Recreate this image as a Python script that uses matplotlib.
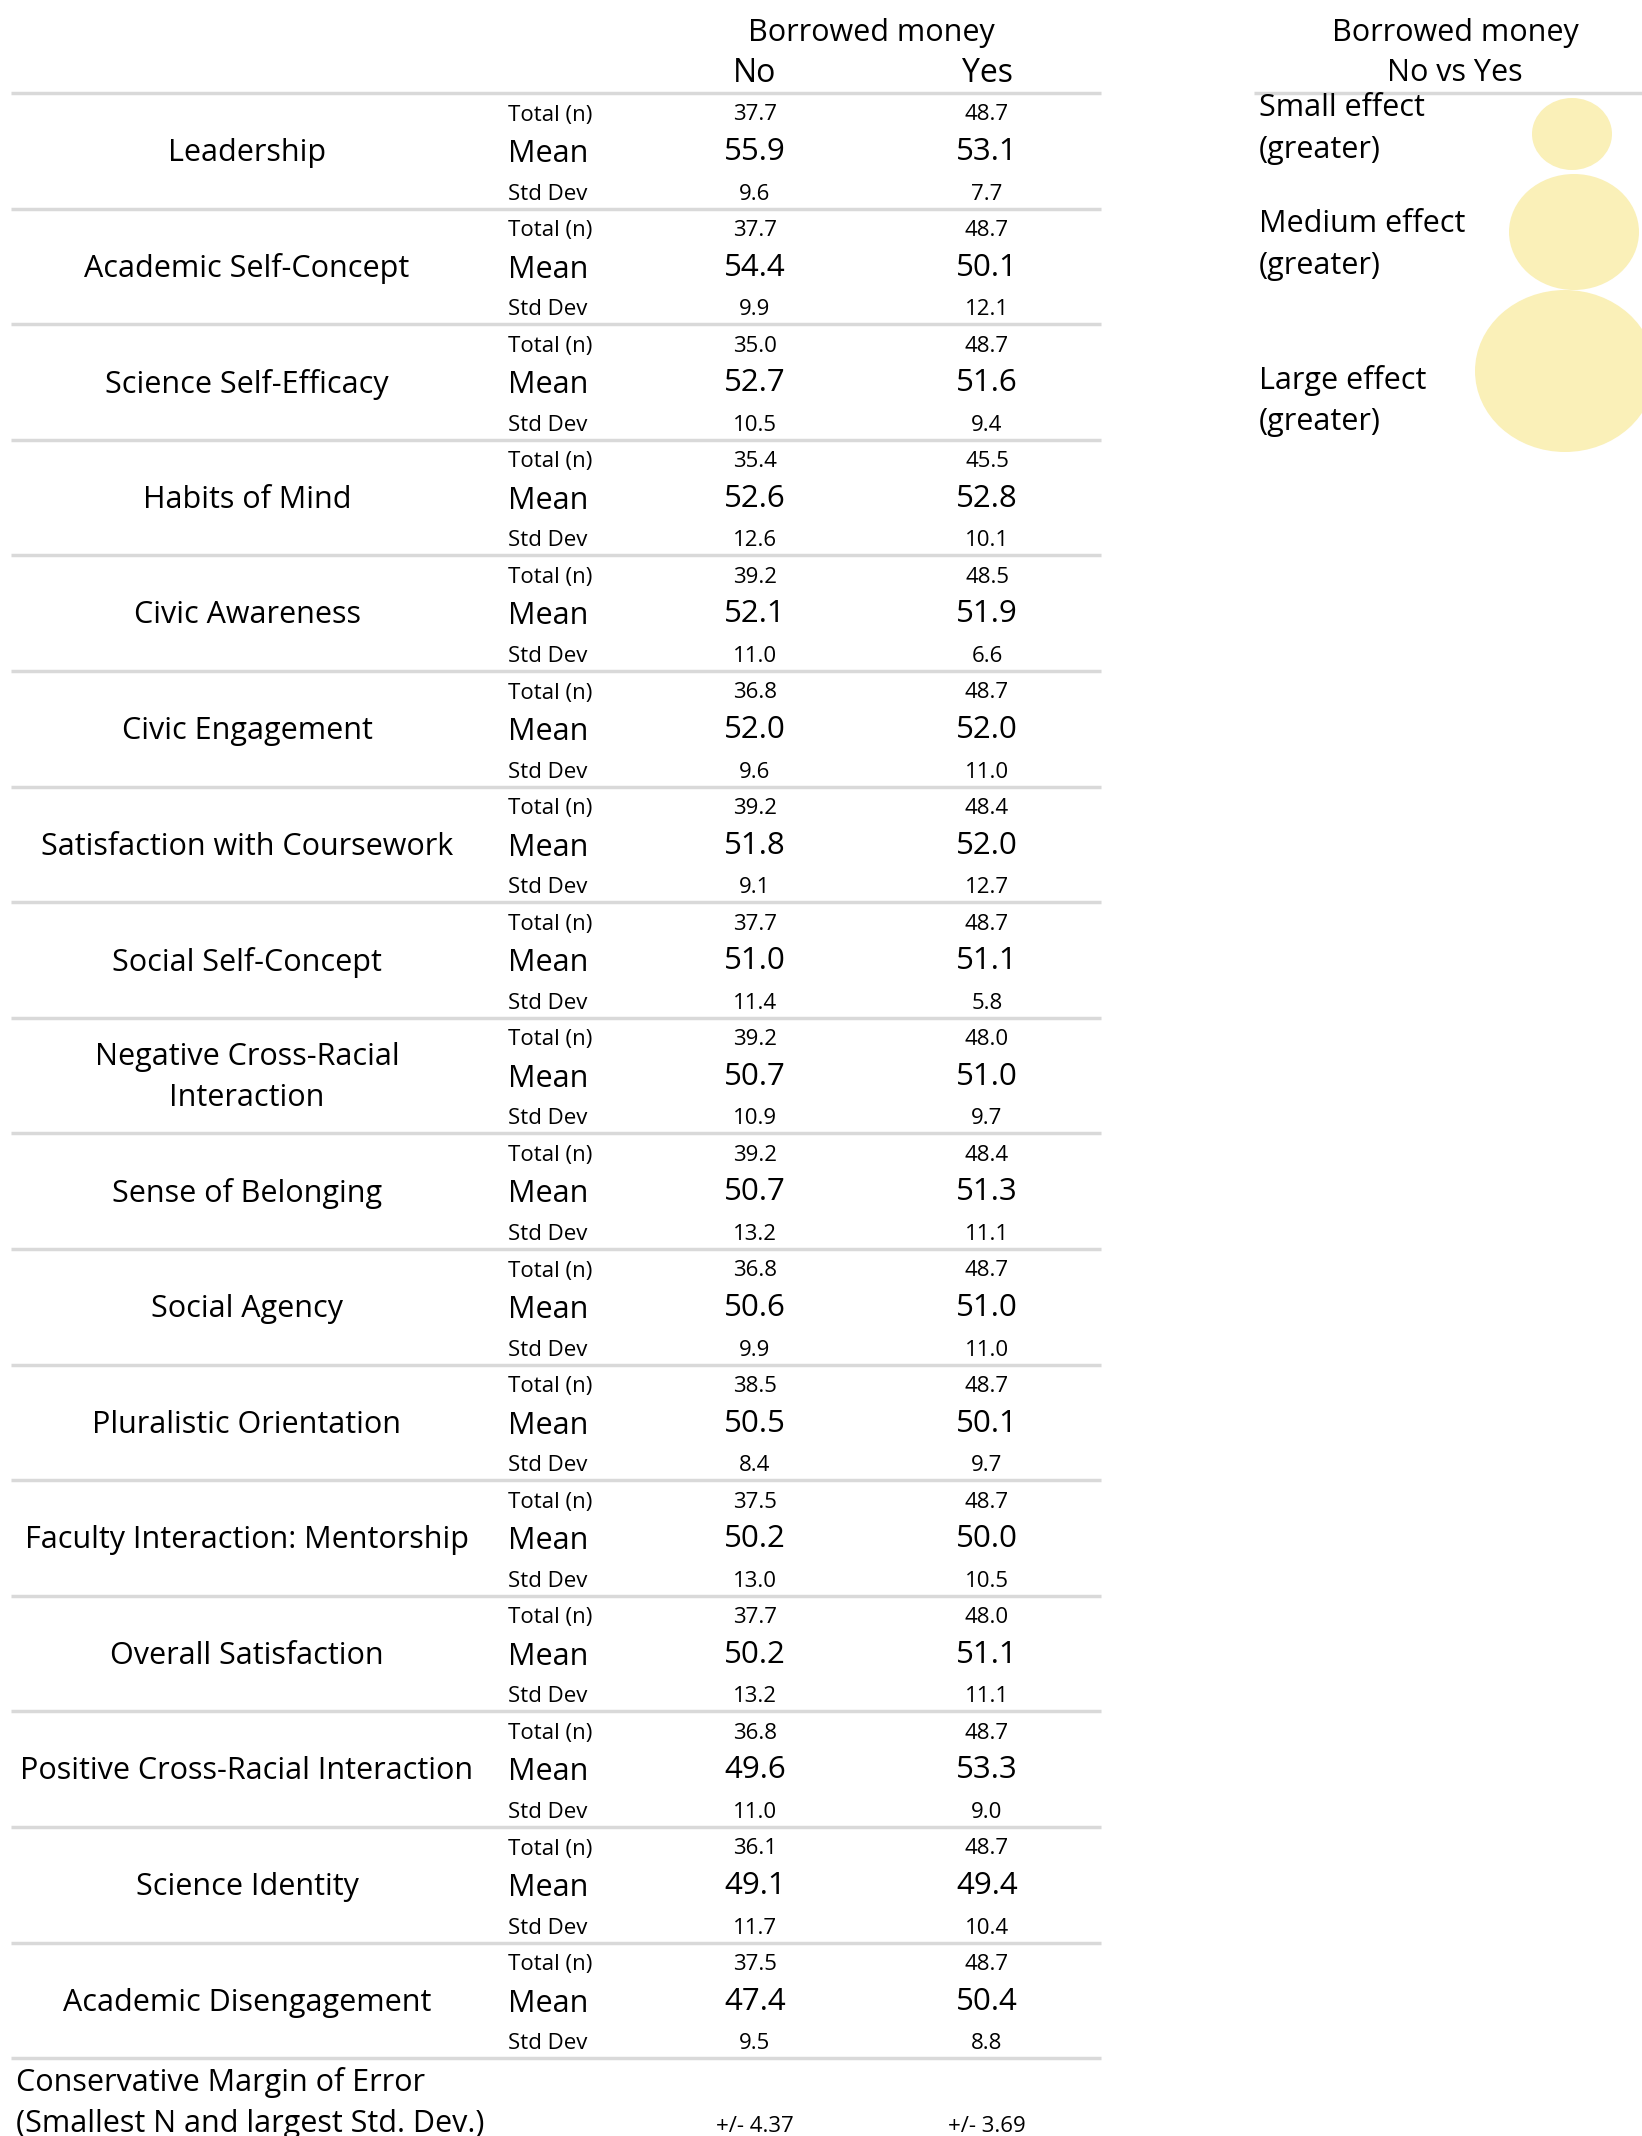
import matplotlib.pyplot as plt
from matplotlib.patches import Ellipse

# data
scales = ["Leadership", "Academic Self-Concept", "Science Self-Efficacy",
          "Habits of Mind", "Civic Awareness", "Civic Engagement",
          "Satisfaction with Coursework", "Social Self-Concept",
          "Negative Cross-Racial\nInteraction", "Sense of Belonging",
          "Social Agency", "Pluralistic Orientation",
          "Faculty Interaction: Mentorship", "Overall Satisfaction",
          "Positive Cross-Racial Interaction", "Science Identity",
          "Academic Disengagement"]
n_no = [37.7, 37.7, 35.0, 35.4, 39.2, 36.8, 39.2, 37.7, 39.2, 39.2,
        36.8, 38.5, 37.5, 37.7, 36.8, 36.1, 37.5]
n_yes = [48.7, 48.7, 48.7, 45.5, 48.5, 48.7, 48.4, 48.7, 48.0, 48.4,
         48.7, 48.7, 48.7, 48.0, 48.7, 48.7, 48.7]
mean_no = [55.9, 54.4, 52.7, 52.6, 52.1, 52.0, 51.8, 51.0, 50.7, 50.7,
           50.6, 50.5, 50.2, 50.2, 49.6, 49.1, 47.4]
mean_yes = [53.1, 50.1, 51.6, 52.8, 51.9, 52.0, 52.0, 51.1, 51.0, 51.3,
            51.0, 50.1, 50.0, 51.1, 53.3, 49.4, 50.4]
sd_no = [9.6, 9.9, 10.5, 12.6, 11.0, 9.6, 9.1, 11.4, 10.9, 13.2,
         9.9, 8.4, 13.0, 13.2, 11.0, 11.7, 9.5]
sd_yes = [7.7, 12.1, 9.4, 10.1, 6.6, 11.0, 12.7, 5.8, 9.7, 11.1,
          11.0, 9.7, 10.5, 11.1, 9.0, 10.4, 8.8]
groups = ["No", "Yes"]
margin = ["+/- 4.37", "+/- 3.69"]
effects = ["Small effect\n(greater)", "Medium effect\n(greater)", "Large effect\n(greater)"]

plt.rcParams['font.family'] = ['Open Sans', 'DejaVu Sans']

W, H = 1642, 2136
fig = plt.figure(figsize=(W / 100, H / 100), dpi=100)
ax = fig.add_axes([0, 0, 1, 1])
ax.set_xlim(0, W)
ax.set_ylim(H, 0)
ax.axis('off')

grey = '#d9d9d9'
top = 93
rowh = 115.6
col_x = [755, 987]
big, small, num = 22, 16, 22.5

ax.text(871, 33, "Borrowed money", ha='center', va='center', fontsize=big)
for x, g in zip(col_x, groups):
    ax.text(x, 74, g, ha='center', va='center', fontsize=23)

ax.plot([11, 1101], [top, top], color=grey, lw=2.5, solid_capstyle='butt')
for i, name in enumerate(scales):
    y = top + i * rowh
    ax.text(247, y + 60, name, ha='center', va='center', fontsize=big,
            linespacing=1.48)
    ax.text(508, y + 22, "Total (n)", ha='left', va='center', fontsize=small)
    ax.text(508, y + 61, "Mean", ha='left', va='center', fontsize=big)
    ax.text(508, y + 101, "Std Dev", ha='left', va='center', fontsize=small)
    for x, n, m, s in zip(col_x, (n_no[i], n_yes[i]), (mean_no[i], mean_yes[i]),
                          (sd_no[i], sd_yes[i])):
        ax.text(x, y + 22, f"{n:.1f}", ha='center', va='center', fontsize=small)
        ax.text(x, y + 59, f"{m:.1f}", ha='center', va='center', fontsize=num)
        ax.text(x, y + 101, f"{s:.1f}", ha='center', va='center', fontsize=small)
    ax.plot([11, 1101], [y + rowh, y + rowh], color=grey, lw=2.5,
            solid_capstyle='butt')

ax.text(16, 2083, "Conservative Margin of Error", ha='left', va='center', fontsize=big)
ax.text(16, 2124, "(Smallest N and largest Std. Dev.)", ha='left', va='center', fontsize=big)
for x, m in zip(col_x, margin):
    ax.text(x, 2126, m, ha='center', va='center', fontsize=small)

# effect size legend
ax.text(1455, 33, "Borrowed money", ha='center', va='center', fontsize=big)
ax.text(1455, 73, "No vs Yes", ha='center', va='center', fontsize=big)
ax.plot([1254, W], [top, top], color=grey, lw=2.5, solid_capstyle='butt')
label_y = [129, 245, 401]
circ = [(1572, 134, 80, 72), (1574, 232, 130, 116), (1565, 371, 180, 162)]
for lab, ly, (cx, cy, w, h) in zip(effects, label_y, circ):
    ax.text(1259, ly, lab, ha='left', va='center', fontsize=big, linespacing=1.48)
    ax.add_patch(Ellipse((cx, cy), w, h, color='#faf0b8', lw=0, clip_on=True))

fig.savefig("out.png", dpi=100)
